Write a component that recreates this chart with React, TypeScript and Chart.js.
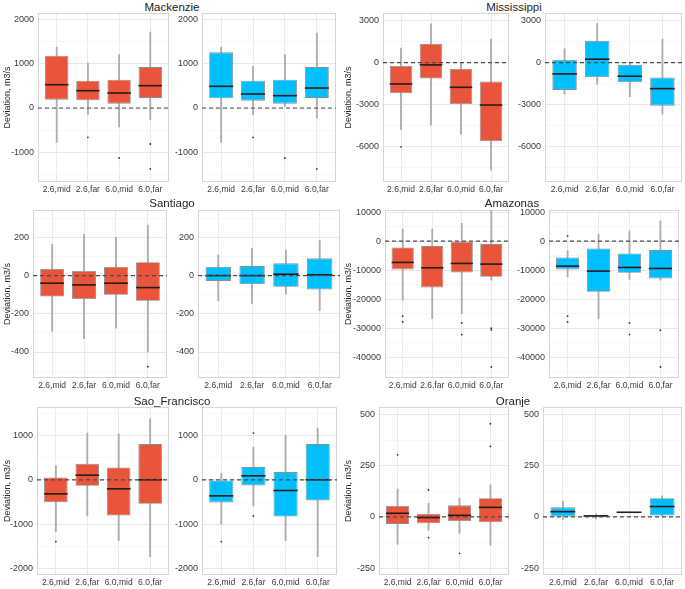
import React, { useEffect, useRef } from "react";
import { Chart, registerables } from "chart.js";
Chart.register(...registerables);

// ---------------- data ----------------
const scenarios = ["2.6,mid", "2.6,far", "6.0,mid", "6.0,far"];

// rows: [lowerWhisker, q1, median, q3, upperWhisker] per scenario
const mackenzieRed = [
  [-774, 188, 526, 1180, 1376],
  [-150, 173, 391, 617, 1015],
  [-429, 98, 338, 639, 1203],
  [-263, 226, 504, 925, 1714],
];
const mackenzieRedOut = [[1, -662], [2, -1128], [3, -812], [3, -1376]];
const mackenzieBlue = [
  [-774, 218, 489, 1256, 1376],
  [-150, 165, 316, 617, 940],
  [30, 98, 278, 639, 1203],
  [-226, 226, 451, 925, 1692],
];
const mackenzieBlueOut = [[1, -662], [2, -1128], [3, -1376]];
const mackenzieRange = [-1670, 2144];
const mackenzieTicks = [-1000, 0, 1000, 2000];
const mackenzieMinor = [-1500, -500, 500, 1500];

const mississippiRed = [
  [-4800, -2208, -1536, -240, 1032],
  [-4488, -1152, -168, 1344, 2784],
  [-5136, -2976, -1776, -456, 0],
  [-7728, -5640, -3048, -1368, 1680],
];
const mississippiRedOut = [[0, -6048]];
const mississippiBlue = [
  [-2280, -1968, -816, 192, 984],
  [-1560, -1056, 240, 1560, 2784],
  [-2448, -1416, -984, -168, 0],
  [-3696, -3096, -1872, -1080, 1680],
];
const mississippiBlueOut: number[][] = [];
const mississippiRange = [-8568, 3552];
const mississippiTicks = [-6000, -3000, 0, 3000];
const mississippiMinor = [-7500, -4500, -1500, 1500];

const santiagoRed = [
  [-292, -110, -40, 35, 163],
  [-330, -123, -49, 24, 216],
  [-275, -101, -40, 45, 200],
  [-400, -132, -63, 70, 264],
];
const santiagoRedOut = [[3, -477]];
const santiagoBlue = [
  [-132, -28, 0, 45, 108],
  [-146, -45, 0, 50, 143],
  [-97, -59, 7, 64, 134],
  [-184, -73, 4, 90, 183],
];
const santiagoBlueOut: number[][] = [];
const santiagoRange = [-536, 343];
const santiagoTicks = [-400, -200, 0, 200];
const santiagoMinor = [-500, -300, -100, 100, 300];

const amazonasRed = [
  [-20355, -9775, -7360, -2185, 4140],
  [-26680, -15985, -9200, -1725, 4140],
  [-24955, -10810, -7705, 0, 6095],
  [-13455, -12305, -7935, -1035, 10600],
];
const amazonasRedOut = [[0, -25875], [0, -27830], [2, -28175], [2, -32200], [3, -30000], [3, -30600], [3, -43355]];
const amazonasBlue = [
  [-12305, -9775, -8625, -5635, -3335],
  [-26680, -17480, -10350, -2530, 2300],
  [-13225, -10925, -9085, -4255, 3450],
  [-13455, -12880, -9430, -3105, 6900],
];
const amazonasBlueOut = [[0, 1725], [0, -25875], [0, -27830], [2, -28175], [2, -32200], [3, -30705], [3, -43355]];
const amazonasRange = [-47150, 10695];
const amazonasTicks = [-40000, -30000, -20000, -10000, 0, 10000];
const amazonasMinor = [-45000, -35000, -25000, -15000, -5000, 5000];

const saoRed = [
  [-1165, -504, -316, 53, 316],
  [-812, -135, 105, 361, 1053],
  [-1369, -805, -203, 278, 1038],
  [-1730, -541, 0, 805, 1376],
];
const saoRedOut = [[0, -1391]];
const saoBlue = [
  [-1000, -511, -361, -15, 150],
  [-587, -128, 90, 286, 737],
  [-1369, -827, -241, 173, 1000],
  [-1730, -466, 0, 805, 1165],
];
const saoBlueOut = [[0, -1391], [1, 1053], [1, -812]];
const saoRange = [-2143, 1639];
const saoTicks = [-2000, -1000, 0, 1000];
const saoMinor = [-1500, -500, 500, 1500];

const oranjeRed = [
  [-134, -34, 18, 54, 136],
  [-65, -31, -3, 15, 67],
  [-80, -20, 8, 57, 92],
  [-139, -26, 47, 92, 157],
];
const oranjeRedOut = [[0, 304], [1, 132], [1, -101], [2, -178], [3, 456], [3, 345]];
const oranjeBlue = [
  [-11, 2, 26, 47, 78],
  [-10, 2, 5, 10, 15],
  [21, 21, 23, 24, 24],
  [5, 7, 51, 92, 103],
];
const oranjeBlueOut: number[][] = [];
const oranjeRange = [-284, 538];
const oranjeTicks = [-250, 0, 250, 500];
const oranjeMinor = [-125, 125, 375];

// ---------------- styles ----------------
const RED = "#E9553B";
const BLUE = "#00BFFF";
const TICK_FONT = "'Liberation Sans', Arial, sans-serif";
const TITLE_FONT = "'Liberation Sans', Arial, sans-serif";
const PAD_TOP = 12;
const X_AXIS_H = 16;

type PanelProps = {
  stats: number[][];
  outliers: number[][];
  color: string;
  range: number[];
  ticks: number[];
  minor: number[];
  canvasLeft: number;
  plotLeft: number;
  plotRight: number;
  plotTop: number;
  plotBottom: number;
  yTitle: boolean;
};

const borderPlugin = {
  id: "panelBorder",
  beforeDatasetsDraw(chart: any) {
    const { ctx, chartArea } = chart;
    ctx.save();
    ctx.strokeStyle = "#d6d6d6";
    ctx.lineWidth = 1;
    ctx.strokeRect(chartArea.left + 0.5, chartArea.top + 0.5, chartArea.right - chartArea.left - 1, chartArea.bottom - chartArea.top - 1);
    ctx.restore();
  },
};

function Panel(p: PanelProps) {
  const ref = useRef<HTMLCanvasElement>(null);
  const width = p.plotRight - p.canvasLeft + 1;
  const height = p.plotBottom - p.plotTop + PAD_TOP + X_AXIS_H;
  const yAxisW = p.plotLeft - p.canvasLeft;

  useEffect(() => {
    if (!ref.current) return;
    const major = p.ticks;
    const allTicks = [...p.ticks, ...p.minor].sort((a, b) => a - b);
    const halfBox = (ctx: any) => {
      const x = ctx.chart.scales.x;
      return Math.abs(x.getPixelForValue(1.375) - x.getPixelForValue(1));
    };
    const chart = new Chart(ref.current, {
      type: "bar",
      data: {
        datasets: [
          {
            type: "line",
            data: [{ x: 0.4, y: 0 }, { x: 4.6, y: 0 }],
            borderColor: "#4a4a4a",
            borderWidth: 1.2,
            borderDash: [4, 3],
            pointRadius: 0,
            order: 1,
          } as any,
          {
            type: "scatter",
            data: p.outliers.map(([i, v]) => ({ x: i + 1, y: v })),
            pointStyle: "circle",
            radius: 0.9,
            backgroundColor: "#333333",
            borderWidth: 0,
            order: 2,
          } as any,
          {
            type: "scatter",
            data: p.stats.map((s, i) => ({ x: i + 1, y: s[2] })),
            pointStyle: "line",
            radius: halfBox,
            borderColor: "#2a1a16",
            borderWidth: 1.6,
            order: 3,
          } as any,
          {
            type: "bar",
            data: p.stats.map((s, i) => ({ x: i + 1, y: [s[1], s[3]] })),
            backgroundColor: p.color,
            borderColor: "#8e8e8e",
            borderWidth: 0.9,
            borderSkipped: false,
            barPercentage: 0.75,
            categoryPercentage: 1,
            grouped: false,
            order: 4,
          } as any,
          {
            type: "bar",
            data: p.stats.map((s, i) => ({ x: i + 1, y: [s[0], s[4]] })),
            backgroundColor: "#adadad",
            barThickness: 1.2,
            grouped: false,
            order: 5,
          } as any,
        ],
      },
      options: {
        animation: false,
        responsive: false,
        maintainAspectRatio: false,
        events: [],
        layout: { padding: { top: PAD_TOP, right: 1, left: 0, bottom: 0 } },
        plugins: { legend: { display: false }, tooltip: { enabled: false }, title: { display: false } },
        scales: {
          x: {
            type: "linear",
            min: 0.4,
            max: 4.6,
            offset: false,
            afterBuildTicks: (axis: any) => {
              axis.ticks = scenarios.map((_, i) => ({ value: i + 1 }));
            },
            afterFit: (axis: any) => {
              axis.height = X_AXIS_H;
            },
            ticks: {
              autoSkip: false,
              maxRotation: 0,
              minRotation: 0,
              padding: 3,
              color: "#3a3a3a",
              font: { family: TICK_FONT, size: 8.5 },
              callback: (v: any) => scenarios[Math.round(v) - 1] ?? "",
            },
            grid: { color: "#ebebeb", lineWidth: 1, drawTicks: false, offset: false },
            border: { display: false },
          },
          y: {
            type: "linear",
            min: p.range[0],
            max: p.range[1],
            afterBuildTicks: (axis: any) => {
              axis.ticks = allTicks.map((v) => ({ value: v }));
            },
            afterFit: (axis: any) => {
              axis.width = yAxisW;
            },
            ticks: {
              autoSkip: false,
              padding: 4,
              color: "#3a3a3a",
              font: { family: TICK_FONT, size: 9 },
              callback: (v: any) => (major.includes(v) ? String(v) : ""),
            },
            grid: {
              drawTicks: false,
              color: (ctx: any) => (major.includes(ctx.tick?.value) ? "#e8e8e8" : "#f3f3f3"),
              lineWidth: (ctx: any) => (major.includes(ctx.tick?.value) ? 1 : 0.7),
            },
            border: { display: false },
            title: {
              display: p.yTitle,
              text: "Deviation, m3/s",
              color: "#2a2a2a",
              font: { family: TICK_FONT, size: 9 },
              padding: { top: 1, bottom: 0 },
            },
          },
        },
      } as any,
      plugins: [borderPlugin],
    });
    return () => chart.destroy();
  }, []);

  return (
    <canvas
      ref={ref}
      width={width}
      height={height}
      style={{ position: "absolute", left: p.canvasLeft, top: p.plotTop - PAD_TOP, width, height }}
    />
  );
}

type GroupDef = {
  name: string;
  centerX: number;
  titleY: number;
  plotTop: number;
  plotBottom: number;
  red: number[][];
  redOut: number[][];
  blue: number[][];
  blueOut: number[][];
  range: number[];
  ticks: number[];
  minor: number[];
  left: number[]; // canvasLeft, plotLeft, plotRight
  right: number[];
};

const groups: GroupDef[] = [
  { name: "Mackenzie", centerX: 172, titleY: 7, plotTop: 13, plotBottom: 182, red: mackenzieRed, redOut: mackenzieRedOut, blue: mackenzieBlue, blueOut: mackenzieBlueOut, range: mackenzieRange, ticks: mackenzieTicks, minor: mackenzieMinor, left: [1, 38, 172], right: [172, 202, 339] },
  { name: "Mississippi", centerX: 514, titleY: 7, plotTop: 13, plotBottom: 182, red: mississippiRed, redOut: mississippiRedOut, blue: mississippiBlue, blueOut: mississippiBlueOut, range: mississippiRange, ticks: mississippiTicks, minor: mississippiMinor, left: [342, 383, 512], right: [513, 545, 682] },
  { name: "Santiago", centerX: 172, titleY: 203, plotTop: 210, plotBottom: 378, red: santiagoRed, redOut: santiagoRedOut, blue: santiagoBlue, blueOut: santiagoBlueOut, range: santiagoRange, ticks: santiagoTicks, minor: santiagoMinor, left: [1, 33, 170], right: [172, 198, 340] },
  { name: "Amazonas", centerX: 512, titleY: 203, plotTop: 210, plotBottom: 378, red: amazonasRed, redOut: amazonasRedOut, blue: amazonasBlue, blueOut: amazonasBlueOut, range: amazonasRange, ticks: amazonasTicks, minor: amazonasMinor, left: [342, 385, 512], right: [513, 549, 682] },
  { name: "Sao_Francisco", centerX: 172, titleY: 401, plotTop: 407, plotBottom: 575, red: saoRed, redOut: saoRedOut, blue: saoBlue, blueOut: saoBlueOut, range: saoRange, ticks: saoTicks, minor: saoMinor, left: [1, 37, 172], right: [174, 202, 340] },
  { name: "Oranje", centerX: 513, titleY: 401, plotTop: 407, plotBottom: 575, red: oranjeRed, redOut: oranjeRedOut, blue: oranjeBlue, blueOut: oranjeBlueOut, range: oranjeRange, ticks: oranjeTicks, minor: oranjeMinor, left: [342, 379, 512], right: [513, 543, 682] },
];

export default function App() {
  return (
    <div style={{ position: "absolute", left: 0, top: 0, width: 685, height: 589, background: "#ffffff", overflow: "hidden" }}>
      {groups.map((g) => (
        <React.Fragment key={g.name}>
          <div
            style={{
              position: "absolute",
              left: g.centerX - 80,
              width: 160,
              top: g.titleY - 7,
              height: 14,
              lineHeight: "14px",
              textAlign: "center",
              fontFamily: TITLE_FONT,
              fontSize: 11.5,
              color: "#1e1e1e",
            }}
          >
            {g.name}
          </div>
          <Panel
            stats={g.red}
            outliers={g.redOut}
            color={RED}
            range={g.range}
            ticks={g.ticks}
            minor={g.minor}
            canvasLeft={g.left[0]}
            plotLeft={g.left[1]}
            plotRight={g.left[2]}
            plotTop={g.plotTop}
            plotBottom={g.plotBottom}
            yTitle={true}
          />
          <Panel
            stats={g.blue}
            outliers={g.blueOut}
            color={BLUE}
            range={g.range}
            ticks={g.ticks}
            minor={g.minor}
            canvasLeft={g.right[0]}
            plotLeft={g.right[1]}
            plotRight={g.right[2]}
            plotTop={g.plotTop}
            plotBottom={g.plotBottom}
            yTitle={false}
          />
        </React.Fragment>
      ))}
    </div>
  );
}
